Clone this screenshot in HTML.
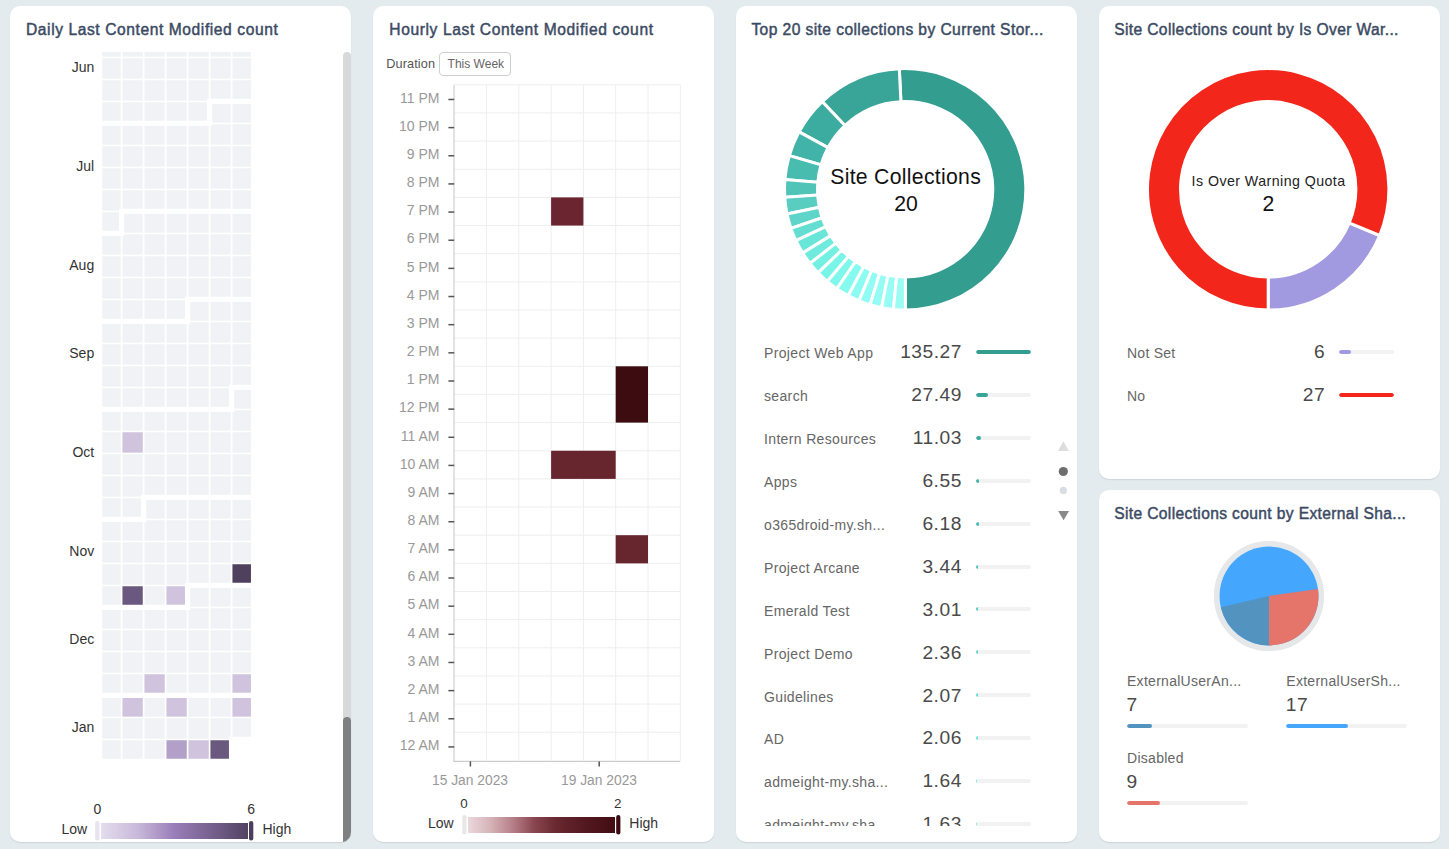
<!DOCTYPE html>
<html><head><meta charset="utf-8"><title>Dashboard</title>
<style>
*{box-sizing:border-box}
html,body{margin:0;padding:0}
body{width:1449px;height:849px;background:#e4ebef;overflow:hidden;position:relative;font-family:"Liberation Sans",Arial,sans-serif;color:#333}
.card{position:absolute;background:#fff;border-radius:10px;box-shadow:0 1px 1px rgba(40,60,80,0.13);overflow:hidden}
.abs{position:absolute;white-space:nowrap}
.t{position:absolute;white-space:nowrap;line-height:1}
.bar{position:absolute;height:4px;border-radius:2px;background:#f2f2f2;overflow:hidden}
.bar i{position:absolute;left:0;top:0;height:4px;border-radius:2px}
svg{position:absolute;left:0;top:0}
</style></head>
<body>
<div class="card" style="left:10px;top:6px;width:341px;height:836px"></div>
<div class="card" style="left:373px;top:6px;width:341px;height:836px"></div>
<div class="card" style="left:736px;top:6px;width:341px;height:836px"></div>
<div class="card" style="left:1099px;top:6px;width:341px;height:473px"></div>
<div class="card" style="left:1099px;top:490px;width:341px;height:352px"></div>

<svg width="1449" height="849" viewBox="0 0 1449 849">
<defs>
<clipPath id="calclip"><rect x="10" y="52" width="333" height="780"/></clipPath>
<linearGradient id="g1" x1="0" x2="1" y1="0" y2="0">
<stop offset="0" stop-color="#e4dded"/><stop offset="0.25" stop-color="#c8b8da"/><stop offset="0.5" stop-color="#9a7db8"/><stop offset="0.75" stop-color="#76618e"/><stop offset="1" stop-color="#534262"/>
</linearGradient>
<linearGradient id="g2" x1="0" x2="1" y1="0" y2="0">
<stop offset="0" stop-color="#ead8db"/><stop offset="0.15" stop-color="#d6b4b9"/><stop offset="0.3" stop-color="#b78189"/><stop offset="0.45" stop-color="#8a4650"/><stop offset="0.6" stop-color="#682830"/><stop offset="0.8" stop-color="#521820"/><stop offset="1" stop-color="#420c12"/>
</linearGradient>
</defs>
<!-- card1 calendar -->
<g clip-path="url(#calclip)"><g><rect x="100.45" y="36.25" width="20.3" height="20.4" fill="#f0f2f5"/><rect x="122.45" y="36.25" width="20.3" height="20.4" fill="#f0f2f5"/><rect x="144.45" y="36.25" width="20.3" height="20.4" fill="#f0f2f5"/><rect x="166.45" y="36.25" width="20.3" height="20.4" fill="#f0f2f5"/><rect x="188.45" y="36.25" width="20.3" height="20.4" fill="#f0f2f5"/><rect x="210.45" y="36.25" width="20.3" height="20.4" fill="#f0f2f5"/><rect x="232.45" y="36.25" width="20.3" height="20.4" fill="#f0f2f5"/><rect x="100.45" y="58.25" width="20.3" height="20.4" fill="#f0f2f5"/><rect x="122.45" y="58.25" width="20.3" height="20.4" fill="#f0f2f5"/><rect x="144.45" y="58.25" width="20.3" height="20.4" fill="#f0f2f5"/><rect x="166.45" y="58.25" width="20.3" height="20.4" fill="#f0f2f5"/><rect x="188.45" y="58.25" width="20.3" height="20.4" fill="#f0f2f5"/><rect x="210.45" y="58.25" width="20.3" height="20.4" fill="#f0f2f5"/><rect x="232.45" y="58.25" width="20.3" height="20.4" fill="#f0f2f5"/><rect x="100.45" y="80.25" width="20.3" height="20.4" fill="#f0f2f5"/><rect x="122.45" y="80.25" width="20.3" height="20.4" fill="#f0f2f5"/><rect x="144.45" y="80.25" width="20.3" height="20.4" fill="#f0f2f5"/><rect x="166.45" y="80.25" width="20.3" height="20.4" fill="#f0f2f5"/><rect x="188.45" y="80.25" width="20.3" height="20.4" fill="#f0f2f5"/><rect x="210.45" y="80.25" width="20.3" height="20.4" fill="#f0f2f5"/><rect x="232.45" y="80.25" width="20.3" height="20.4" fill="#f0f2f5"/><rect x="100.45" y="102.25" width="20.3" height="20.4" fill="#f0f2f5"/><rect x="122.45" y="102.25" width="20.3" height="20.4" fill="#f0f2f5"/><rect x="144.45" y="102.25" width="20.3" height="20.4" fill="#f0f2f5"/><rect x="166.45" y="102.25" width="20.3" height="20.4" fill="#f0f2f5"/><rect x="188.45" y="102.25" width="20.3" height="20.4" fill="#f0f2f5"/><rect x="210.45" y="102.25" width="20.3" height="20.4" fill="#f0f2f5"/><rect x="232.45" y="102.25" width="20.3" height="20.4" fill="#f0f2f5"/><rect x="100.45" y="124.25" width="20.3" height="20.4" fill="#f0f2f5"/><rect x="122.45" y="124.25" width="20.3" height="20.4" fill="#f0f2f5"/><rect x="144.45" y="124.25" width="20.3" height="20.4" fill="#f0f2f5"/><rect x="166.45" y="124.25" width="20.3" height="20.4" fill="#f0f2f5"/><rect x="188.45" y="124.25" width="20.3" height="20.4" fill="#f0f2f5"/><rect x="210.45" y="124.25" width="20.3" height="20.4" fill="#f0f2f5"/><rect x="232.45" y="124.25" width="20.3" height="20.4" fill="#f0f2f5"/><rect x="100.45" y="146.25" width="20.3" height="20.4" fill="#f0f2f5"/><rect x="122.45" y="146.25" width="20.3" height="20.4" fill="#f0f2f5"/><rect x="144.45" y="146.25" width="20.3" height="20.4" fill="#f0f2f5"/><rect x="166.45" y="146.25" width="20.3" height="20.4" fill="#f0f2f5"/><rect x="188.45" y="146.25" width="20.3" height="20.4" fill="#f0f2f5"/><rect x="210.45" y="146.25" width="20.3" height="20.4" fill="#f0f2f5"/><rect x="232.45" y="146.25" width="20.3" height="20.4" fill="#f0f2f5"/><rect x="100.45" y="168.25" width="20.3" height="20.4" fill="#f0f2f5"/><rect x="122.45" y="168.25" width="20.3" height="20.4" fill="#f0f2f5"/><rect x="144.45" y="168.25" width="20.3" height="20.4" fill="#f0f2f5"/><rect x="166.45" y="168.25" width="20.3" height="20.4" fill="#f0f2f5"/><rect x="188.45" y="168.25" width="20.3" height="20.4" fill="#f0f2f5"/><rect x="210.45" y="168.25" width="20.3" height="20.4" fill="#f0f2f5"/><rect x="232.45" y="168.25" width="20.3" height="20.4" fill="#f0f2f5"/><rect x="100.45" y="190.25" width="20.3" height="20.4" fill="#f0f2f5"/><rect x="122.45" y="190.25" width="20.3" height="20.4" fill="#f0f2f5"/><rect x="144.45" y="190.25" width="20.3" height="20.4" fill="#f0f2f5"/><rect x="166.45" y="190.25" width="20.3" height="20.4" fill="#f0f2f5"/><rect x="188.45" y="190.25" width="20.3" height="20.4" fill="#f0f2f5"/><rect x="210.45" y="190.25" width="20.3" height="20.4" fill="#f0f2f5"/><rect x="232.45" y="190.25" width="20.3" height="20.4" fill="#f0f2f5"/><rect x="100.45" y="212.25" width="20.3" height="20.4" fill="#f0f2f5"/><rect x="122.45" y="212.25" width="20.3" height="20.4" fill="#f0f2f5"/><rect x="144.45" y="212.25" width="20.3" height="20.4" fill="#f0f2f5"/><rect x="166.45" y="212.25" width="20.3" height="20.4" fill="#f0f2f5"/><rect x="188.45" y="212.25" width="20.3" height="20.4" fill="#f0f2f5"/><rect x="210.45" y="212.25" width="20.3" height="20.4" fill="#f0f2f5"/><rect x="232.45" y="212.25" width="20.3" height="20.4" fill="#f0f2f5"/><rect x="100.45" y="234.25" width="20.3" height="20.4" fill="#f0f2f5"/><rect x="122.45" y="234.25" width="20.3" height="20.4" fill="#f0f2f5"/><rect x="144.45" y="234.25" width="20.3" height="20.4" fill="#f0f2f5"/><rect x="166.45" y="234.25" width="20.3" height="20.4" fill="#f0f2f5"/><rect x="188.45" y="234.25" width="20.3" height="20.4" fill="#f0f2f5"/><rect x="210.45" y="234.25" width="20.3" height="20.4" fill="#f0f2f5"/><rect x="232.45" y="234.25" width="20.3" height="20.4" fill="#f0f2f5"/><rect x="100.45" y="256.25" width="20.3" height="20.4" fill="#f0f2f5"/><rect x="122.45" y="256.25" width="20.3" height="20.4" fill="#f0f2f5"/><rect x="144.45" y="256.25" width="20.3" height="20.4" fill="#f0f2f5"/><rect x="166.45" y="256.25" width="20.3" height="20.4" fill="#f0f2f5"/><rect x="188.45" y="256.25" width="20.3" height="20.4" fill="#f0f2f5"/><rect x="210.45" y="256.25" width="20.3" height="20.4" fill="#f0f2f5"/><rect x="232.45" y="256.25" width="20.3" height="20.4" fill="#f0f2f5"/><rect x="100.45" y="278.25" width="20.3" height="20.4" fill="#f0f2f5"/><rect x="122.45" y="278.25" width="20.3" height="20.4" fill="#f0f2f5"/><rect x="144.45" y="278.25" width="20.3" height="20.4" fill="#f0f2f5"/><rect x="166.45" y="278.25" width="20.3" height="20.4" fill="#f0f2f5"/><rect x="188.45" y="278.25" width="20.3" height="20.4" fill="#f0f2f5"/><rect x="210.45" y="278.25" width="20.3" height="20.4" fill="#f0f2f5"/><rect x="232.45" y="278.25" width="20.3" height="20.4" fill="#f0f2f5"/><rect x="100.45" y="300.25" width="20.3" height="20.4" fill="#f0f2f5"/><rect x="122.45" y="300.25" width="20.3" height="20.4" fill="#f0f2f5"/><rect x="144.45" y="300.25" width="20.3" height="20.4" fill="#f0f2f5"/><rect x="166.45" y="300.25" width="20.3" height="20.4" fill="#f0f2f5"/><rect x="188.45" y="300.25" width="20.3" height="20.4" fill="#f0f2f5"/><rect x="210.45" y="300.25" width="20.3" height="20.4" fill="#f0f2f5"/><rect x="232.45" y="300.25" width="20.3" height="20.4" fill="#f0f2f5"/><rect x="100.45" y="322.25" width="20.3" height="20.4" fill="#f0f2f5"/><rect x="122.45" y="322.25" width="20.3" height="20.4" fill="#f0f2f5"/><rect x="144.45" y="322.25" width="20.3" height="20.4" fill="#f0f2f5"/><rect x="166.45" y="322.25" width="20.3" height="20.4" fill="#f0f2f5"/><rect x="188.45" y="322.25" width="20.3" height="20.4" fill="#f0f2f5"/><rect x="210.45" y="322.25" width="20.3" height="20.4" fill="#f0f2f5"/><rect x="232.45" y="322.25" width="20.3" height="20.4" fill="#f0f2f5"/><rect x="100.45" y="344.25" width="20.3" height="20.4" fill="#f0f2f5"/><rect x="122.45" y="344.25" width="20.3" height="20.4" fill="#f0f2f5"/><rect x="144.45" y="344.25" width="20.3" height="20.4" fill="#f0f2f5"/><rect x="166.45" y="344.25" width="20.3" height="20.4" fill="#f0f2f5"/><rect x="188.45" y="344.25" width="20.3" height="20.4" fill="#f0f2f5"/><rect x="210.45" y="344.25" width="20.3" height="20.4" fill="#f0f2f5"/><rect x="232.45" y="344.25" width="20.3" height="20.4" fill="#f0f2f5"/><rect x="100.45" y="366.25" width="20.3" height="20.4" fill="#f0f2f5"/><rect x="122.45" y="366.25" width="20.3" height="20.4" fill="#f0f2f5"/><rect x="144.45" y="366.25" width="20.3" height="20.4" fill="#f0f2f5"/><rect x="166.45" y="366.25" width="20.3" height="20.4" fill="#f0f2f5"/><rect x="188.45" y="366.25" width="20.3" height="20.4" fill="#f0f2f5"/><rect x="210.45" y="366.25" width="20.3" height="20.4" fill="#f0f2f5"/><rect x="232.45" y="366.25" width="20.3" height="20.4" fill="#f0f2f5"/><rect x="100.45" y="388.25" width="20.3" height="20.4" fill="#f0f2f5"/><rect x="122.45" y="388.25" width="20.3" height="20.4" fill="#f0f2f5"/><rect x="144.45" y="388.25" width="20.3" height="20.4" fill="#f0f2f5"/><rect x="166.45" y="388.25" width="20.3" height="20.4" fill="#f0f2f5"/><rect x="188.45" y="388.25" width="20.3" height="20.4" fill="#f0f2f5"/><rect x="210.45" y="388.25" width="20.3" height="20.4" fill="#f0f2f5"/><rect x="232.45" y="388.25" width="20.3" height="20.4" fill="#f0f2f5"/><rect x="100.45" y="410.25" width="20.3" height="20.4" fill="#f0f2f5"/><rect x="122.45" y="410.25" width="20.3" height="20.4" fill="#f0f2f5"/><rect x="144.45" y="410.25" width="20.3" height="20.4" fill="#f0f2f5"/><rect x="166.45" y="410.25" width="20.3" height="20.4" fill="#f0f2f5"/><rect x="188.45" y="410.25" width="20.3" height="20.4" fill="#f0f2f5"/><rect x="210.45" y="410.25" width="20.3" height="20.4" fill="#f0f2f5"/><rect x="232.45" y="410.25" width="20.3" height="20.4" fill="#f0f2f5"/><rect x="100.45" y="432.25" width="20.3" height="20.4" fill="#f0f2f5"/><rect x="122.45" y="432.25" width="20.3" height="20.4" fill="#cfc3de"/><rect x="144.45" y="432.25" width="20.3" height="20.4" fill="#f0f2f5"/><rect x="166.45" y="432.25" width="20.3" height="20.4" fill="#f0f2f5"/><rect x="188.45" y="432.25" width="20.3" height="20.4" fill="#f0f2f5"/><rect x="210.45" y="432.25" width="20.3" height="20.4" fill="#f0f2f5"/><rect x="232.45" y="432.25" width="20.3" height="20.4" fill="#f0f2f5"/><rect x="100.45" y="454.25" width="20.3" height="20.4" fill="#f0f2f5"/><rect x="122.45" y="454.25" width="20.3" height="20.4" fill="#f0f2f5"/><rect x="144.45" y="454.25" width="20.3" height="20.4" fill="#f0f2f5"/><rect x="166.45" y="454.25" width="20.3" height="20.4" fill="#f0f2f5"/><rect x="188.45" y="454.25" width="20.3" height="20.4" fill="#f0f2f5"/><rect x="210.45" y="454.25" width="20.3" height="20.4" fill="#f0f2f5"/><rect x="232.45" y="454.25" width="20.3" height="20.4" fill="#f0f2f5"/><rect x="100.45" y="476.25" width="20.3" height="20.4" fill="#f0f2f5"/><rect x="122.45" y="476.25" width="20.3" height="20.4" fill="#f0f2f5"/><rect x="144.45" y="476.25" width="20.3" height="20.4" fill="#f0f2f5"/><rect x="166.45" y="476.25" width="20.3" height="20.4" fill="#f0f2f5"/><rect x="188.45" y="476.25" width="20.3" height="20.4" fill="#f0f2f5"/><rect x="210.45" y="476.25" width="20.3" height="20.4" fill="#f0f2f5"/><rect x="232.45" y="476.25" width="20.3" height="20.4" fill="#f0f2f5"/><rect x="100.45" y="498.25" width="20.3" height="20.4" fill="#f0f2f5"/><rect x="122.45" y="498.25" width="20.3" height="20.4" fill="#f0f2f5"/><rect x="144.45" y="498.25" width="20.3" height="20.4" fill="#f0f2f5"/><rect x="166.45" y="498.25" width="20.3" height="20.4" fill="#f0f2f5"/><rect x="188.45" y="498.25" width="20.3" height="20.4" fill="#f0f2f5"/><rect x="210.45" y="498.25" width="20.3" height="20.4" fill="#f0f2f5"/><rect x="232.45" y="498.25" width="20.3" height="20.4" fill="#f0f2f5"/><rect x="100.45" y="520.25" width="20.3" height="20.4" fill="#f0f2f5"/><rect x="122.45" y="520.25" width="20.3" height="20.4" fill="#f0f2f5"/><rect x="144.45" y="520.25" width="20.3" height="20.4" fill="#f0f2f5"/><rect x="166.45" y="520.25" width="20.3" height="20.4" fill="#f0f2f5"/><rect x="188.45" y="520.25" width="20.3" height="20.4" fill="#f0f2f5"/><rect x="210.45" y="520.25" width="20.3" height="20.4" fill="#f0f2f5"/><rect x="232.45" y="520.25" width="20.3" height="20.4" fill="#f0f2f5"/><rect x="100.45" y="542.25" width="20.3" height="20.4" fill="#f0f2f5"/><rect x="122.45" y="542.25" width="20.3" height="20.4" fill="#f0f2f5"/><rect x="144.45" y="542.25" width="20.3" height="20.4" fill="#f0f2f5"/><rect x="166.45" y="542.25" width="20.3" height="20.4" fill="#f0f2f5"/><rect x="188.45" y="542.25" width="20.3" height="20.4" fill="#f0f2f5"/><rect x="210.45" y="542.25" width="20.3" height="20.4" fill="#f0f2f5"/><rect x="232.45" y="542.25" width="20.3" height="20.4" fill="#f0f2f5"/><rect x="100.45" y="564.25" width="20.3" height="20.4" fill="#f0f2f5"/><rect x="122.45" y="564.25" width="20.3" height="20.4" fill="#f0f2f5"/><rect x="144.45" y="564.25" width="20.3" height="20.4" fill="#f0f2f5"/><rect x="166.45" y="564.25" width="20.3" height="20.4" fill="#f0f2f5"/><rect x="188.45" y="564.25" width="20.3" height="20.4" fill="#f0f2f5"/><rect x="210.45" y="564.25" width="20.3" height="20.4" fill="#f0f2f5"/><rect x="232.45" y="564.25" width="20.3" height="20.4" fill="#4f405d"/><rect x="100.45" y="586.25" width="20.3" height="20.4" fill="#f0f2f5"/><rect x="122.45" y="586.25" width="20.3" height="20.4" fill="#6a587e"/><rect x="144.45" y="586.25" width="20.3" height="20.4" fill="#f0f2f5"/><rect x="166.45" y="586.25" width="20.3" height="20.4" fill="#cfc3de"/><rect x="188.45" y="586.25" width="20.3" height="20.4" fill="#f0f2f5"/><rect x="210.45" y="586.25" width="20.3" height="20.4" fill="#f0f2f5"/><rect x="232.45" y="586.25" width="20.3" height="20.4" fill="#f0f2f5"/><rect x="100.45" y="608.25" width="20.3" height="20.4" fill="#f0f2f5"/><rect x="122.45" y="608.25" width="20.3" height="20.4" fill="#f0f2f5"/><rect x="144.45" y="608.25" width="20.3" height="20.4" fill="#f0f2f5"/><rect x="166.45" y="608.25" width="20.3" height="20.4" fill="#f0f2f5"/><rect x="188.45" y="608.25" width="20.3" height="20.4" fill="#f0f2f5"/><rect x="210.45" y="608.25" width="20.3" height="20.4" fill="#f0f2f5"/><rect x="232.45" y="608.25" width="20.3" height="20.4" fill="#f0f2f5"/><rect x="100.45" y="630.25" width="20.3" height="20.4" fill="#f0f2f5"/><rect x="122.45" y="630.25" width="20.3" height="20.4" fill="#f0f2f5"/><rect x="144.45" y="630.25" width="20.3" height="20.4" fill="#f0f2f5"/><rect x="166.45" y="630.25" width="20.3" height="20.4" fill="#f0f2f5"/><rect x="188.45" y="630.25" width="20.3" height="20.4" fill="#f0f2f5"/><rect x="210.45" y="630.25" width="20.3" height="20.4" fill="#f0f2f5"/><rect x="232.45" y="630.25" width="20.3" height="20.4" fill="#f0f2f5"/><rect x="100.45" y="652.25" width="20.3" height="20.4" fill="#f0f2f5"/><rect x="122.45" y="652.25" width="20.3" height="20.4" fill="#f0f2f5"/><rect x="144.45" y="652.25" width="20.3" height="20.4" fill="#f0f2f5"/><rect x="166.45" y="652.25" width="20.3" height="20.4" fill="#f0f2f5"/><rect x="188.45" y="652.25" width="20.3" height="20.4" fill="#f0f2f5"/><rect x="210.45" y="652.25" width="20.3" height="20.4" fill="#f0f2f5"/><rect x="232.45" y="652.25" width="20.3" height="20.4" fill="#f0f2f5"/><rect x="100.45" y="674.25" width="20.3" height="20.4" fill="#f0f2f5"/><rect x="122.45" y="674.25" width="20.3" height="20.4" fill="#f0f2f5"/><rect x="144.45" y="674.25" width="20.3" height="20.4" fill="#cfc3de"/><rect x="166.45" y="674.25" width="20.3" height="20.4" fill="#f0f2f5"/><rect x="188.45" y="674.25" width="20.3" height="20.4" fill="#f0f2f5"/><rect x="210.45" y="674.25" width="20.3" height="20.4" fill="#f0f2f5"/><rect x="232.45" y="674.25" width="20.3" height="20.4" fill="#cfc3de"/><rect x="100.45" y="696.25" width="20.3" height="20.4" fill="#f0f2f5"/><rect x="122.45" y="696.25" width="20.3" height="20.4" fill="#cfc3de"/><rect x="144.45" y="696.25" width="20.3" height="20.4" fill="#f0f2f5"/><rect x="166.45" y="696.25" width="20.3" height="20.4" fill="#cfc3de"/><rect x="188.45" y="696.25" width="20.3" height="20.4" fill="#f0f2f5"/><rect x="210.45" y="696.25" width="20.3" height="20.4" fill="#f0f2f5"/><rect x="232.45" y="696.25" width="20.3" height="20.4" fill="#cfc3de"/><rect x="100.45" y="718.25" width="20.3" height="20.4" fill="#f0f2f5"/><rect x="122.45" y="718.25" width="20.3" height="20.4" fill="#f0f2f5"/><rect x="144.45" y="718.25" width="20.3" height="20.4" fill="#f0f2f5"/><rect x="166.45" y="718.25" width="20.3" height="20.4" fill="#f0f2f5"/><rect x="188.45" y="718.25" width="20.3" height="20.4" fill="#f0f2f5"/><rect x="210.45" y="718.25" width="20.3" height="20.4" fill="#f0f2f5"/><rect x="232.45" y="718.25" width="20.3" height="20.4" fill="#f0f2f5"/><rect x="100.45" y="740.25" width="20.3" height="20.4" fill="#f0f2f5"/><rect x="122.45" y="740.25" width="20.3" height="20.4" fill="#f0f2f5"/><rect x="144.45" y="740.25" width="20.3" height="20.4" fill="#f0f2f5"/><rect x="166.45" y="740.25" width="20.3" height="20.4" fill="#b3a0c9"/><rect x="188.45" y="740.25" width="20.3" height="20.4" fill="#cfc3de"/><rect x="210.45" y="740.25" width="20.3" height="20.4" fill="#6a587e"/></g><g fill="none" stroke="#fff" stroke-width="5.3" stroke-linejoin="miter"><polyline points="99.6,123.45 209.6,123.45 209.6,101.45 253.6,101.45"/><polyline points="99.6,233.45 121.6,233.45 121.6,211.45 253.6,211.45"/><polyline points="99.6,321.45 187.6,321.45 187.6,299.45 253.6,299.45"/><polyline points="99.6,409.45 231.6,409.45 231.6,387.45 253.6,387.45"/><polyline points="99.6,519.45 143.6,519.45 143.6,497.45 253.6,497.45"/><polyline points="99.6,607.45 187.6,607.45 187.6,585.45 253.6,585.45"/><polyline points="99.6,695.45 253.6,695.45"/><polyline points="99.6,761.45 231.6,761.45 231.6,739.45 253.6,739.45"/><line x1="99.6" y1="20" x2="99.6" y2="761.45"/><line x1="253.6" y1="20" x2="253.6" y2="739.45"/></g></g>
<!-- scrollbar -->
<path d="M343 56a4 4 0 0 1 8 0V800H343Z" fill="#d9d9d9"/>
<path d="M343 721a4 4 0 0 1 8 0V832a10 10 0 0 1 -8 10Z" fill="#808080"/>
<!-- legend 1 -->
<rect x="101" y="823" width="147" height="16" fill="url(#g1)"/>
<rect x="95.2" y="821" width="4.3" height="19.5" rx="2.1" fill="#e8e3ef"/>
<rect x="249" y="821" width="4.3" height="19.5" rx="2.1" fill="#4b3d5c"/>
<!-- card2 hourly -->
<g stroke="#eeeeee" stroke-width="1"><line x1="454.2" y1="84.8" x2="680.3" y2="84.8"/><line x1="454.2" y1="112.95" x2="680.3" y2="112.95"/><line x1="454.2" y1="141.1" x2="680.3" y2="141.1"/><line x1="454.2" y1="169.25" x2="680.3" y2="169.25"/><line x1="454.2" y1="197.4" x2="680.3" y2="197.4"/><line x1="454.2" y1="225.55" x2="680.3" y2="225.55"/><line x1="454.2" y1="253.7" x2="680.3" y2="253.7"/><line x1="454.2" y1="281.85" x2="680.3" y2="281.85"/><line x1="454.2" y1="310" x2="680.3" y2="310"/><line x1="454.2" y1="338.15" x2="680.3" y2="338.15"/><line x1="454.2" y1="366.3" x2="680.3" y2="366.3"/><line x1="454.2" y1="394.45" x2="680.3" y2="394.45"/><line x1="454.2" y1="422.6" x2="680.3" y2="422.6"/><line x1="454.2" y1="450.75" x2="680.3" y2="450.75"/><line x1="454.2" y1="478.9" x2="680.3" y2="478.9"/><line x1="454.2" y1="507.05" x2="680.3" y2="507.05"/><line x1="454.2" y1="535.2" x2="680.3" y2="535.2"/><line x1="454.2" y1="563.35" x2="680.3" y2="563.35"/><line x1="454.2" y1="591.5" x2="680.3" y2="591.5"/><line x1="454.2" y1="619.65" x2="680.3" y2="619.65"/><line x1="454.2" y1="647.8" x2="680.3" y2="647.8"/><line x1="454.2" y1="675.95" x2="680.3" y2="675.95"/><line x1="454.2" y1="704.1" x2="680.3" y2="704.1"/><line x1="454.2" y1="732.25" x2="680.3" y2="732.25"/><line x1="486.5" y1="84.8" x2="486.5" y2="760.4"/><line x1="518.8" y1="84.8" x2="518.8" y2="760.4"/><line x1="551.1" y1="84.8" x2="551.1" y2="760.4"/><line x1="583.4" y1="84.8" x2="583.4" y2="760.4"/><line x1="615.7" y1="84.8" x2="615.7" y2="760.4"/><line x1="648" y1="84.8" x2="648" y2="760.4"/><line x1="680.3" y1="84.8" x2="680.3" y2="760.4"/></g>
<rect x="551.1" y="197.4" width="32.3" height="28.15" fill="#6b2530"/><rect x="615.7" y="366.3" width="32.3" height="56.3" fill="#3d0c10"/><rect x="551.1" y="450.75" width="64.6" height="28.15" fill="#67252e"/><rect x="615.7" y="535.2" width="32.3" height="28.15" fill="#67252e"/>
<line x1="454" y1="84.8" x2="454" y2="761.9" stroke="#d4d4d4" stroke-width="1.3"/>
<line x1="453.4" y1="761.4" x2="680.3" y2="761.4" stroke="#cccccc" stroke-width="1.1"/>
<g stroke="#555" stroke-width="1.5"><line x1="448.4" y1="746.92" x2="454.2" y2="746.92"/><line x1="448.4" y1="718.77" x2="454.2" y2="718.77"/><line x1="448.4" y1="690.62" x2="454.2" y2="690.62"/><line x1="448.4" y1="662.48" x2="454.2" y2="662.48"/><line x1="448.4" y1="634.32" x2="454.2" y2="634.32"/><line x1="448.4" y1="606.17" x2="454.2" y2="606.17"/><line x1="448.4" y1="578.02" x2="454.2" y2="578.02"/><line x1="448.4" y1="549.88" x2="454.2" y2="549.88"/><line x1="448.4" y1="521.73" x2="454.2" y2="521.73"/><line x1="448.4" y1="493.57" x2="454.2" y2="493.57"/><line x1="448.4" y1="465.42" x2="454.2" y2="465.42"/><line x1="448.4" y1="437.27" x2="454.2" y2="437.27"/><line x1="448.4" y1="409.12" x2="454.2" y2="409.12"/><line x1="448.4" y1="380.97" x2="454.2" y2="380.97"/><line x1="448.4" y1="352.82" x2="454.2" y2="352.82"/><line x1="448.4" y1="324.67" x2="454.2" y2="324.67"/><line x1="448.4" y1="296.52" x2="454.2" y2="296.52"/><line x1="448.4" y1="268.37" x2="454.2" y2="268.37"/><line x1="448.4" y1="240.22" x2="454.2" y2="240.22"/><line x1="448.4" y1="212.07" x2="454.2" y2="212.07"/><line x1="448.4" y1="183.92" x2="454.2" y2="183.92"/><line x1="448.4" y1="155.77" x2="454.2" y2="155.77"/><line x1="448.4" y1="127.62" x2="454.2" y2="127.62"/><line x1="448.4" y1="99.47" x2="454.2" y2="99.47"/><line x1="470.4" y1="761.4" x2="470.4" y2="766.5"/><line x1="599.2" y1="761.4" x2="599.2" y2="766.5"/></g>
<rect x="468" y="817" width="147" height="16" fill="url(#g2)"/>
<rect x="462.3" y="815" width="4.2" height="19.5" rx="2.1" fill="#e8e8e8"/>
<rect x="616.2" y="815" width="4.2" height="19.5" rx="2.1" fill="#3d0a10"/>
<!-- card3 donut -->
<g stroke="#fff" stroke-width="3" stroke-linejoin="miter"><path d="M899.3 68.74A120.7 120.7 0 1 1 905.41 310L905.35 277A87.7 87.7 0 1 0 900.92 101.7Z" fill="#339d8f"/><path d="M822.27 101.6A120.7 120.7 0 0 1 899.3 68.74L900.92 101.7A87.7 87.7 0 0 0 844.94 125.58Z" fill="#38a598"/><path d="M799.03 131.89A120.7 120.7 0 0 1 822.27 101.6L844.94 125.58A87.7 87.7 0 0 0 828.05 147.59Z" fill="#3daca0"/><path d="M789.29 155.63A120.7 120.7 0 0 1 799.03 131.89L828.05 147.59A87.7 87.7 0 0 0 820.98 164.83Z" fill="#42b3a8"/><path d="M784.89 179.62A120.7 120.7 0 0 1 789.29 155.63L820.98 164.83A87.7 87.7 0 0 0 817.78 182.27Z" fill="#49bcb0"/><path d="M784.77 197.3A120.7 120.7 0 0 1 784.89 179.62L817.78 182.27A87.7 87.7 0 0 0 817.69 195.11Z" fill="#51c4b8"/><path d="M787.05 213.98A120.7 120.7 0 0 1 784.77 197.3L817.69 195.11A87.7 87.7 0 0 0 819.35 207.23Z" fill="#58cdc0"/><path d="M791.01 228.4A120.7 120.7 0 0 1 787.05 213.98L819.35 207.23A87.7 87.7 0 0 0 822.23 217.71Z" fill="#5ed5c8"/><path d="M795.99 240.69A120.7 120.7 0 0 1 791.01 228.4L822.23 217.71A87.7 87.7 0 0 0 825.85 226.64Z" fill="#64ded0"/><path d="M802.73 253.08A120.7 120.7 0 0 1 795.99 240.69L825.85 226.64A87.7 87.7 0 0 0 830.75 235.64Z" fill="#6ae6d8"/><path d="M809.96 263.44A120.7 120.7 0 0 1 802.73 253.08L830.75 235.64A87.7 87.7 0 0 0 836 243.17Z" fill="#6febdd"/><path d="M818.08 272.84A120.7 120.7 0 0 1 809.96 263.44L836 243.17A87.7 87.7 0 0 0 841.9 250Z" fill="#73f0e1"/><path d="M827.29 281.49A120.7 120.7 0 0 1 818.08 272.84L841.9 250A87.7 87.7 0 0 0 848.59 256.28Z" fill="#78f5e6"/><path d="M836.83 288.77A120.7 120.7 0 0 1 827.29 281.49L848.59 256.28A87.7 87.7 0 0 0 855.53 261.58Z" fill="#7ff7ea"/><path d="M848.16 295.67A120.7 120.7 0 0 1 836.83 288.77L855.53 261.58A87.7 87.7 0 0 0 863.76 266.59Z" fill="#85faef"/><path d="M859.01 300.81A120.7 120.7 0 0 1 848.16 295.67L863.76 266.59A87.7 87.7 0 0 0 871.64 270.32Z" fill="#8cfcf3"/><path d="M870.11 304.79A120.7 120.7 0 0 1 859.01 300.81L871.64 270.32A87.7 87.7 0 0 0 879.71 273.21Z" fill="#90fcf3"/><path d="M881.55 307.66A120.7 120.7 0 0 1 870.11 304.79L879.71 273.21A87.7 87.7 0 0 0 888.02 275.3Z" fill="#94fcf4"/><path d="M893.42 309.42A120.7 120.7 0 0 1 881.55 307.66L888.02 275.3A87.7 87.7 0 0 0 896.64 276.58Z" fill="#97fcf4"/><path d="M905.41 310A120.7 120.7 0 0 1 893.42 309.42L896.64 276.58A87.7 87.7 0 0 0 905.35 277Z" fill="#9bfcf4"/></g>
<!-- pager -->
<path d="M1063.4 441.2L1068.8 451H1058Z" fill="#dddddd"/>
<circle cx="1063.3" cy="471.5" r="4.6" fill="#6e6e6e"/>
<circle cx="1063.3" cy="490.4" r="3.6" fill="#dadce3"/>
<path d="M1063.6 520.2L1069 511H1058.2Z" fill="#8a8a8a"/>
<!-- card4 donut -->
<g stroke="#fff" stroke-width="3" stroke-linejoin="miter"><path d="M1379.71 235.49A120.7 120.7 0 0 1 1268.2 310L1268.2 277A87.7 87.7 0 0 0 1349.22 222.86Z" fill="#a19ae0"/><path d="M1268.2 310A120.7 120.7 0 1 1 1379.71 235.49L1349.22 222.86A87.7 87.7 0 1 0 1268.2 277Z" fill="#f2261a"/></g>
<!-- card5 pie -->
<circle cx="1269" cy="596" r="52.3" fill="none" stroke="#e6e7e8" stroke-width="5.6"/><circle cx="1269" cy="596" r="49.5" fill="#44a6fc"/><path d="M1269 596L1318.01 589.03A49.5 49.5 0 0 1 1269 645.5Z" fill="#e5746a"/><path d="M1269 596L1269 645.5A49.5 49.5 0 0 1 1220.81 607.3Z" fill="#5393c0"/>
</svg>

<!-- texts -->
<div class="t" style="top:60.05px;font-size:14px;color:#333;right:1354.8px;">Jun</div>
<div class="t" style="top:159.05px;font-size:14px;color:#333;right:1354.8px;">Jul</div>
<div class="t" style="top:257.95px;font-size:14px;color:#333;right:1354.8px;">Aug</div>
<div class="t" style="top:345.95px;font-size:14px;color:#333;right:1354.8px;">Sep</div>
<div class="t" style="top:444.95px;font-size:14px;color:#333;right:1354.8px;">Oct</div>
<div class="t" style="top:543.85px;font-size:14px;color:#333;right:1354.8px;">Nov</div>
<div class="t" style="top:631.85px;font-size:14px;color:#333;right:1354.8px;">Dec</div>
<div class="t" style="top:719.85px;font-size:14px;color:#333;right:1354.8px;">Jan</div>
<div class="t" style="top:801.95px;font-size:14px;color:#333;left:97.3px;transform:translateX(-50%);">0</div>
<div class="t" style="top:801.95px;font-size:14px;color:#333;left:251.1px;transform:translateX(-50%);">6</div>
<div class="t" style="top:822.35px;font-size:14px;color:#333;left:61.5px;">Low</div>
<div class="t" style="top:822.35px;font-size:14px;color:#333;left:262.5px;">High</div>
<div class="t" style="top:21.89px;font-size:15.6px;color:#3b4a63;letter-spacing:0.58px;left:26px;-webkit-text-stroke:0.45px #3b4a63;">Daily Last Content Modified count</div>
<div class="t" style="top:21.89px;font-size:15.6px;color:#3b4a63;letter-spacing:0.61px;left:389.3px;-webkit-text-stroke:0.45px #3b4a63;">Hourly Last Content Modified count</div>
<div class="t" style="top:21.89px;font-size:15.6px;color:#3b4a63;letter-spacing:0.42px;left:751.4px;-webkit-text-stroke:0.45px #3b4a63;">Top 20 site collections by Current Stor...</div>
<div class="t" style="top:21.89px;font-size:15.6px;color:#3b4a63;letter-spacing:0.37px;left:1114.2px;-webkit-text-stroke:0.45px #3b4a63;">Site Collections count by Is Over War...</div>
<div class="t" style="top:505.79px;font-size:15.6px;color:#3b4a63;letter-spacing:0.36px;left:1114.2px;-webkit-text-stroke:0.45px #3b4a63;">Site Collections count by External Sha...</div>
<div class="t" style="top:165.75px;font-size:21.2px;color:#111;letter-spacing:0.3px;left:905.65px;transform:translateX(-50%);">Site Collections</div>
<div class="t" style="top:192.75px;font-size:21.2px;color:#111;left:906px;transform:translateX(-50%);">20</div>
<div class="t" style="top:173.78px;font-size:14.2px;color:#222;letter-spacing:0.45px;left:1268.62px;transform:translateX(-50%);">Is Over Warning Quota</div>
<div class="t" style="top:192.95px;font-size:21.2px;color:#111;left:1268.5px;transform:translateX(-50%);">2</div>
<div class="t" style="top:345.65px;font-size:14px;color:#666;letter-spacing:0.25px;left:1127px;">Not Set</div>
<div class="t" style="top:389.45px;font-size:14px;color:#666;letter-spacing:0.25px;left:1127px;">No</div>
<div class="t" style="top:342.35px;font-size:19.2px;color:#4a4a4a;letter-spacing:0.5px;right:123.9px;">6</div>
<div class="t" style="top:385.25px;font-size:19.2px;color:#4a4a4a;letter-spacing:0.5px;right:123.9px;">27</div>
<div class="t" style="top:674.15px;font-size:14px;color:#666;letter-spacing:0.28px;left:1127px;">ExternalUserAn...</div>
<div class="t" style="top:674.15px;font-size:14px;color:#666;letter-spacing:0.28px;left:1286.3px;">ExternalUserSh...</div>
<div class="t" style="top:751.15px;font-size:14px;color:#666;letter-spacing:0.28px;left:1127px;">Disabled</div>
<div class="t" style="top:694.75px;font-size:19.2px;color:#4a4a4a;letter-spacing:0.5px;left:1126.5px;">7</div>
<div class="t" style="top:694.75px;font-size:19.2px;color:#4a4a4a;letter-spacing:0.5px;left:1285.8px;">17</div>
<div class="t" style="top:771.75px;font-size:19.2px;color:#4a4a4a;letter-spacing:0.5px;left:1126.5px;">9</div>
<div class="t" style="top:738.17px;font-size:14px;color:#999;right:1009.6px;">12 AM</div>
<div class="t" style="top:710.02px;font-size:14px;color:#999;right:1009.6px;">1 AM</div>
<div class="t" style="top:681.87px;font-size:14px;color:#999;right:1009.6px;">2 AM</div>
<div class="t" style="top:653.72px;font-size:14px;color:#999;right:1009.6px;">3 AM</div>
<div class="t" style="top:625.57px;font-size:14px;color:#999;right:1009.6px;">4 AM</div>
<div class="t" style="top:597.42px;font-size:14px;color:#999;right:1009.6px;">5 AM</div>
<div class="t" style="top:569.27px;font-size:14px;color:#999;right:1009.6px;">6 AM</div>
<div class="t" style="top:541.12px;font-size:14px;color:#999;right:1009.6px;">7 AM</div>
<div class="t" style="top:512.97px;font-size:14px;color:#999;right:1009.6px;">8 AM</div>
<div class="t" style="top:484.82px;font-size:14px;color:#999;right:1009.6px;">9 AM</div>
<div class="t" style="top:456.67px;font-size:14px;color:#999;right:1009.6px;">10 AM</div>
<div class="t" style="top:428.52px;font-size:14px;color:#999;right:1009.6px;">11 AM</div>
<div class="t" style="top:400.37px;font-size:14px;color:#999;right:1009.6px;">12 PM</div>
<div class="t" style="top:372.22px;font-size:14px;color:#999;right:1009.6px;">1 PM</div>
<div class="t" style="top:344.07px;font-size:14px;color:#999;right:1009.6px;">2 PM</div>
<div class="t" style="top:315.92px;font-size:14px;color:#999;right:1009.6px;">3 PM</div>
<div class="t" style="top:287.77px;font-size:14px;color:#999;right:1009.6px;">4 PM</div>
<div class="t" style="top:259.62px;font-size:14px;color:#999;right:1009.6px;">5 PM</div>
<div class="t" style="top:231.47px;font-size:14px;color:#999;right:1009.6px;">6 PM</div>
<div class="t" style="top:203.32px;font-size:14px;color:#999;right:1009.6px;">7 PM</div>
<div class="t" style="top:175.17px;font-size:14px;color:#999;right:1009.6px;">8 PM</div>
<div class="t" style="top:147.02px;font-size:14px;color:#999;right:1009.6px;">9 PM</div>
<div class="t" style="top:118.87px;font-size:14px;color:#999;right:1009.6px;">10 PM</div>
<div class="t" style="top:90.72px;font-size:14px;color:#999;right:1009.6px;">11 PM</div>
<div class="t" style="top:774.02px;font-size:13.8px;color:#999;left:470px;transform:translateX(-50%);">15 Jan 2023</div>
<div class="t" style="top:774.02px;font-size:13.8px;color:#999;left:599px;transform:translateX(-50%);">19 Jan 2023</div>
<div class="t" style="top:796.56px;font-size:13.4px;color:#333;left:464px;transform:translateX(-50%);">0</div>
<div class="t" style="top:796.56px;font-size:13.4px;color:#333;left:617.8px;transform:translateX(-50%);">2</div>
<div class="t" style="top:816.15px;font-size:14px;color:#333;left:428px;">Low</div>
<div class="t" style="top:816.15px;font-size:14px;color:#333;left:629.3px;">High</div>
<div class="t" style="top:57.85px;font-size:12.7px;color:#555;letter-spacing:0.1px;left:386.3px;">Duration</div>
<div class="t" style="top:57.64px;font-size:12px;color:#666;left:447.6px;">This Week</div>
<div class="abs" style="left:439.3px;top:52.4px;width:71.3px;height:23.3px;border:1px solid #cfcfcf;border-radius:4px"></div>
<div style="position:absolute;left:736px;top:0;width:341px;height:826px;overflow:hidden">
<div style="position:absolute;left:-736px;top:0;width:1449px;height:849px"><div class="t" style="left:764px;top:346.35px;font-size:14px;color:#666;letter-spacing:0.35px">Project Web App</div><div class="t" style="right:487.2px;top:342.35px;font-size:19.2px;color:#4a4a4a;letter-spacing:0.5px">135.27</div><div class="bar" style="left:976px;top:350px;width:54.5px"><i style="width:54.5px;background:#339d8f"></i></div><div class="t" style="left:764px;top:389.25px;font-size:14px;color:#666;letter-spacing:0.35px">search</div><div class="t" style="right:487.2px;top:385.25px;font-size:19.2px;color:#4a4a4a;letter-spacing:0.5px">27.49</div><div class="bar" style="left:976px;top:392.9px;width:54.5px"><i style="width:11.88px;background:#38a598"></i></div><div class="t" style="left:764px;top:432.15px;font-size:14px;color:#666;letter-spacing:0.35px">Intern Resources</div><div class="t" style="right:487.2px;top:428.15px;font-size:19.2px;color:#4a4a4a;letter-spacing:0.5px">11.03</div><div class="bar" style="left:976px;top:435.8px;width:54.5px"><i style="width:5.24px;background:#3daca0"></i></div><div class="t" style="left:764px;top:475.05px;font-size:14px;color:#666;letter-spacing:0.35px">Apps</div><div class="t" style="right:487.2px;top:471.05px;font-size:19.2px;color:#4a4a4a;letter-spacing:0.5px">6.55</div><div class="bar" style="left:976px;top:478.7px;width:54.5px"><i style="width:3.44px;background:#42b3a8"></i></div><div class="t" style="left:764px;top:517.95px;font-size:14px;color:#666;letter-spacing:0.35px">o365droid-my.sh...</div><div class="t" style="right:487.2px;top:513.95px;font-size:19.2px;color:#4a4a4a;letter-spacing:0.5px">6.18</div><div class="bar" style="left:976px;top:521.6px;width:54.5px"><i style="width:3.29px;background:#49bcb0"></i></div><div class="t" style="left:764px;top:560.85px;font-size:14px;color:#666;letter-spacing:0.35px">Project Arcane</div><div class="t" style="right:487.2px;top:556.85px;font-size:19.2px;color:#4a4a4a;letter-spacing:0.5px">3.44</div><div class="bar" style="left:976px;top:564.5px;width:54.5px"><i style="width:2.19px;background:#51c4b8"></i></div><div class="t" style="left:764px;top:603.75px;font-size:14px;color:#666;letter-spacing:0.35px">Emerald Test</div><div class="t" style="right:487.2px;top:599.75px;font-size:19.2px;color:#4a4a4a;letter-spacing:0.5px">3.01</div><div class="bar" style="left:976px;top:607.4px;width:54.5px"><i style="width:2.01px;background:#58cdc0"></i></div><div class="t" style="left:764px;top:646.65px;font-size:14px;color:#666;letter-spacing:0.35px">Project Demo</div><div class="t" style="right:487.2px;top:642.65px;font-size:19.2px;color:#4a4a4a;letter-spacing:0.5px">2.36</div><div class="bar" style="left:976px;top:650.3px;width:54.5px"><i style="width:1.75px;background:#5ed5c8"></i></div><div class="t" style="left:764px;top:689.55px;font-size:14px;color:#666;letter-spacing:0.35px">Guidelines</div><div class="t" style="right:487.2px;top:685.55px;font-size:19.2px;color:#4a4a4a;letter-spacing:0.5px">2.07</div><div class="bar" style="left:976px;top:693.2px;width:54.5px"><i style="width:1.63px;background:#64ded0"></i></div><div class="t" style="left:764px;top:732.45px;font-size:14px;color:#666;letter-spacing:0.35px">AD</div><div class="t" style="right:487.2px;top:728.45px;font-size:19.2px;color:#4a4a4a;letter-spacing:0.5px">2.06</div><div class="bar" style="left:976px;top:736.1px;width:54.5px"><i style="width:1.63px;background:#6ae6d8"></i></div><div class="t" style="left:764px;top:775.35px;font-size:14px;color:#666;letter-spacing:0.35px">admeight-my.sha...</div><div class="t" style="right:487.2px;top:771.35px;font-size:19.2px;color:#4a4a4a;letter-spacing:0.5px">1.64</div><div class="bar" style="left:976px;top:779px;width:54.5px"><i style="width:1.46px;background:#6febdd"></i></div><div class="t" style="left:764px;top:818.25px;font-size:14px;color:#666;letter-spacing:0.35px">admeight-my.sha...</div><div class="t" style="right:487.2px;top:814.25px;font-size:19.2px;color:#4a4a4a;letter-spacing:0.5px">1.63</div><div class="bar" style="left:976px;top:821.9px;width:54.5px"><i style="width:1.46px;background:#73f0e1"></i></div></div>
</div>
<div class="bar" style="left:1339px;top:350px;width:54.6px"><i style="width:12px;background:#a19ae0"></i></div>
<div class="bar" style="left:1339px;top:392.8px;width:54.6px"><i style="width:54.6px;background:#f2261a"></i></div>
<div class="bar" style="left:1127px;top:724px;width:120.5px"><i style="width:25px;background:#5393c0"></i></div>
<div class="bar" style="left:1286.2px;top:724px;width:120.5px"><i style="width:62px;background:#44a6fc"></i></div>
<div class="bar" style="left:1127px;top:801px;width:120.5px"><i style="width:33px;background:#e5746a"></i></div>
</body></html>
